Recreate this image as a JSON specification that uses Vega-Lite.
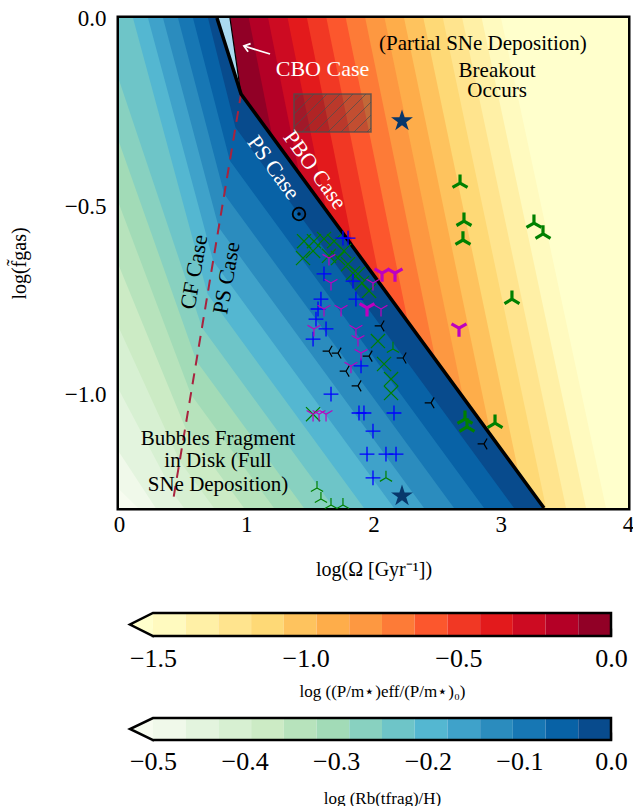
{
  "$schema": "https://vega.github.io/schema/vega-lite/v6.json",
  "autosize": {"type": "pad"},
  "padding": {"left": 6, "top": 4, "right": 2, "bottom": 0},
  "background": "white",
  "bounds": "flush",
  "spacing": 82,
  "config": {
    "font": "Liberation Serif",
    "view": {"stroke": null},
    "text": {"font": "Liberation Serif"},
    "axis": {"grid": false, "zindex": 1, "labelFont": "Liberation Serif", "titleFont": "Liberation Serif", "labelFontSize": 23, "titleFontSize": 20, "titleFontWeight": "normal", "labelColor": "black", "titleColor": "black", "tickColor": "black", "tickWidth": 1.3, "labelFlush": false, "labelOverlap": false}
  },
  "datasets": {
    "orange": [
      {"lev": "o00", "y": 0, "x": 4.2}, {"lev": "o00", "y": -1.3, "x": 4.2},
      {"lev": "o01", "y": 0, "x": 3.002}, {"lev": "o01", "y": -1.3, "x": 3.827},
      {"lev": "o02", "y": 0, "x": 2.850}, {"lev": "o02", "y": -1.3, "x": 3.670},
      {"lev": "o03", "y": 0, "x": 2.697}, {"lev": "o03", "y": -1.3, "x": 3.513},
      {"lev": "o04", "y": 0, "x": 2.545}, {"lev": "o04", "y": -1.3, "x": 3.356},
      {"lev": "o05", "y": 0, "x": 2.392}, {"lev": "o05", "y": -1.3, "x": 3.198},
      {"lev": "o06", "y": 0, "x": 2.240}, {"lev": "o06", "y": -1.3, "x": 3.041},
      {"lev": "o07", "y": 0, "x": 2.087}, {"lev": "o07", "y": -1.3, "x": 2.884},
      {"lev": "o08", "y": 0, "x": 1.935}, {"lev": "o08", "y": -1.3, "x": 2.727},
      {"lev": "o09", "y": 0, "x": 1.782}, {"lev": "o09", "y": -1.3, "x": 2.570},
      {"lev": "o10", "y": 0, "x": 1.630}, {"lev": "o10", "y": -1.3, "x": 2.413},
      {"lev": "o11", "y": 0, "x": 1.477}, {"lev": "o11", "y": -1.3, "x": 2.255},
      {"lev": "o12", "y": 0, "x": 1.325}, {"lev": "o12", "y": -1.3, "x": 2.098},
      {"lev": "o13", "y": 0, "x": 1.172}, {"lev": "o13", "y": -1.3, "x": 1.941},
      {"lev": "o14", "y": 0, "x": 1.020}, {"lev": "o14", "y": -1.3, "x": 1.784}
    ],
    "blue": [
      {"lev": "b00", "y": 0, "xl": 0, "xr": 0.77}, {"lev": "b00", "y": -0.2016, "xl": 0, "xr": 0.959}, {"lev": "b00", "y": -1.3, "xl": 0, "xr": 3.34},
      {"lev": "b01", "y": 0, "xl": 0, "xr": 0.77}, {"lev": "b01", "y": -0.2016, "xl": 0, "xr": 0.959}, {"lev": "b01", "y": -1.25, "xl": 0, "xr": 3.2316}, {"lev": "b01", "y": -1.3, "xl": 0.15, "xr": 3.34},
      {"lev": "b02", "y": 0, "xl": 0, "xr": 0.77}, {"lev": "b02", "y": -0.2016, "xl": 0, "xr": 0.959}, {"lev": "b02", "y": -1.1515, "xl": 0, "xr": 3.0181}, {"lev": "b02", "y": -1.3, "xl": 0.288, "xr": 3.34},
      {"lev": "b03", "y": 0, "xl": 0, "xr": 0.77}, {"lev": "b03", "y": -0.2016, "xl": 0, "xr": 0.959}, {"lev": "b03", "y": -0.987, "xl": 0, "xr": 2.6615}, {"lev": "b03", "y": -1.2648, "xl": 0.4346, "xr": 3.2637}, {"lev": "b03", "y": -1.3, "xl": 0.5104, "xr": 3.34},
      {"lev": "b04", "y": 0, "xl": 0, "xr": 0.77}, {"lev": "b04", "y": -0.2016, "xl": 0, "xr": 0.959}, {"lev": "b04", "y": -0.8225, "xl": 0, "xr": 2.3049}, {"lev": "b04", "y": -1.1762, "xl": 0.4783, "xr": 3.0717}, {"lev": "b04", "y": -1.3, "xl": 0.7462, "xr": 3.34},
      {"lev": "b05", "y": 0, "xl": 0, "xr": 0.77}, {"lev": "b05", "y": -0.2016, "xl": 0, "xr": 0.959}, {"lev": "b05", "y": -0.658, "xl": 0, "xr": 1.9483}, {"lev": "b05", "y": -1.0876, "xl": 0.5220, "xr": 2.8796}, {"lev": "b05", "y": -1.3, "xl": 0.9820, "xr": 3.34},
      {"lev": "b06", "y": 0, "xl": 0, "xr": 0.77}, {"lev": "b06", "y": -0.2016, "xl": 0, "xr": 0.959}, {"lev": "b06", "y": -0.4935, "xl": 0, "xr": 1.5918}, {"lev": "b06", "y": -0.9990, "xl": 0.5657, "xr": 2.6875}, {"lev": "b06", "y": -1.3, "xl": 1.2178, "xr": 3.34},
      {"lev": "b07", "y": 0, "xl": 0, "xr": 0.77}, {"lev": "b07", "y": -0.2016, "xl": 0, "xr": 0.959}, {"lev": "b07", "y": -0.329, "xl": 0, "xr": 1.2352}, {"lev": "b07", "y": -0.9104, "xl": 0.6094, "xr": 2.4955}, {"lev": "b07", "y": -1.3, "xl": 1.4536, "xr": 3.34},
      {"lev": "b08", "y": 0, "xl": 0, "xr": 0.77}, {"lev": "b08", "y": -0.1645, "xl": 0, "xr": 0.9242}, {"lev": "b08", "y": -0.2016, "xl": 0.0369, "xr": 0.959}, {"lev": "b08", "y": -0.8218, "xl": 0.6531, "xr": 2.3034}, {"lev": "b08", "y": -1.3, "xl": 1.6894, "xr": 3.34},
      {"lev": "b09", "y": 0, "xl": 0.1100, "xr": 0.77}, {"lev": "b09", "y": -0.2016, "xl": 0.2714, "xr": 0.959}, {"lev": "b09", "y": -0.7332, "xl": 0.6968, "xr": 2.1114}, {"lev": "b09", "y": -1.3, "xl": 1.9252, "xr": 3.34},
      {"lev": "b10", "y": 0, "xl": 0.2279, "xr": 0.77}, {"lev": "b10", "y": -0.2016, "xl": 0.3882, "xr": 0.959}, {"lev": "b10", "y": -0.6446, "xl": 0.7405, "xr": 1.9193}, {"lev": "b10", "y": -1.3, "xl": 2.1610, "xr": 3.34},
      {"lev": "b11", "y": 0, "xl": 0.3458, "xr": 0.77}, {"lev": "b11", "y": -0.2016, "xl": 0.5048, "xr": 0.959}, {"lev": "b11", "y": -0.5560, "xl": 0.7842, "xr": 1.7272}, {"lev": "b11", "y": -1.3, "xl": 2.3968, "xr": 3.34},
      {"lev": "b12", "y": 0, "xl": 0.4637, "xr": 0.77}, {"lev": "b12", "y": -0.2016, "xl": 0.6208, "xr": 0.959}, {"lev": "b12", "y": -0.4674, "xl": 0.8279, "xr": 1.5352}, {"lev": "b12", "y": -1.3, "xl": 2.6326, "xr": 3.34},
      {"lev": "b13", "y": 0, "xl": 0.5815, "xr": 0.77}, {"lev": "b13", "y": -0.2016, "xl": 0.7359, "xr": 0.959}, {"lev": "b13", "y": -0.3788, "xl": 0.8716, "xr": 1.3431}, {"lev": "b13", "y": -1.3, "xl": 2.8684, "xr": 3.34},
      {"lev": "b14", "y": 0, "xl": 0.6994, "xr": 0.77}, {"lev": "b14", "y": -0.2016, "xl": 0.8494, "xr": 0.959}, {"lev": "b14", "y": -0.2902, "xl": 0.9153, "xr": 1.1511}, {"lev": "b14", "y": -1.3, "xl": 3.1042, "xr": 3.34},
      {"lev": "w", "y": 0, "xl": 0.775, "xr": 0.872}, {"lev": "w", "y": -0.195, "xl": 0.952, "xr": 0.956}
    ],
    "pts": [
      {"s": "gT", "x": 2.680, "y": -0.438}, {"s": "gT", "x": 2.711, "y": -0.539}, {"s": "gT", "x": 2.703, "y": -0.589}, {"s": "gT", "x": 3.261, "y": -0.544}, {"s": "gT", "x": 3.332, "y": -0.573}, {"s": "gT", "x": 3.088, "y": -0.746}, {"s": "gT", "x": 2.719, "y": -1.064}, {"s": "gT", "x": 2.735, "y": -1.085}, {"s": "gT", "x": 2.955, "y": -1.075},
      {"s": "mT", "x": 2.067, "y": -0.677}, {"s": "mT", "x": 2.169, "y": -0.677}, {"s": "mT", "x": 1.949, "y": -0.769}, {"s": "mT", "x": 2.672, "y": -0.823},
      {"s": "mt", "x": 1.650, "y": -0.637}, {"s": "mt", "x": 1.666, "y": -0.703}, {"s": "mt", "x": 1.611, "y": -0.772}, {"s": "mt", "x": 1.745, "y": -0.772}, {"s": "mt", "x": 1.996, "y": -0.703}, {"s": "mt", "x": 2.059, "y": -0.772}, {"s": "mt", "x": 1.862, "y": -0.825}, {"s": "mt", "x": 1.878, "y": -0.852}, {"s": "mt", "x": 1.532, "y": -0.825}, {"s": "mt", "x": 1.902, "y": -0.889}, {"s": "mt", "x": 1.823, "y": -0.923}, {"s": "mt", "x": 1.525, "y": -1.051}, {"s": "mt", "x": 1.572, "y": -1.051}, {"s": "mt", "x": 1.627, "y": -1.051},
      {"s": "bp", "x": 1.760, "y": -0.584}, {"s": "bp", "x": 1.800, "y": -0.584}, {"s": "bp", "x": 1.611, "y": -0.679}, {"s": "bp", "x": 1.839, "y": -0.698}, {"s": "bp", "x": 1.587, "y": -0.746}, {"s": "bp", "x": 1.862, "y": -0.746}, {"s": "bp", "x": 1.564, "y": -0.772}, {"s": "bp", "x": 1.548, "y": -0.799}, {"s": "bp", "x": 1.627, "y": -0.825}, {"s": "bp", "x": 1.525, "y": -0.852}, {"s": "bp", "x": 1.902, "y": -0.923}, {"s": "bp", "x": 1.666, "y": -0.998}, {"s": "bp", "x": 1.886, "y": -1.048}, {"s": "bp", "x": 1.925, "y": -1.048}, {"s": "bp", "x": 2.161, "y": -1.048}, {"s": "bp", "x": 1.996, "y": -1.096}, {"s": "bp", "x": 1.949, "y": -1.157}, {"s": "bp", "x": 2.098, "y": -1.157}, {"s": "bp", "x": 2.177, "y": -1.157}, {"s": "bp", "x": 1.996, "y": -1.220},
      {"s": "gx", "x": 1.454, "y": -0.592}, {"s": "gx", "x": 1.532, "y": -0.592}, {"s": "gx", "x": 1.611, "y": -0.586}, {"s": "gx", "x": 1.690, "y": -0.592}, {"s": "gx", "x": 1.446, "y": -0.637}, {"s": "gx", "x": 1.525, "y": -0.618}, {"s": "gx", "x": 1.650, "y": -0.631}, {"s": "gx", "x": 1.721, "y": -0.637}, {"s": "gx", "x": 1.768, "y": -0.618}, {"s": "gx", "x": 1.800, "y": -0.653}, {"s": "gx", "x": 1.839, "y": -0.677}, {"s": "gx", "x": 1.878, "y": -0.679}, {"s": "gx", "x": 1.910, "y": -0.703}, {"s": "gx", "x": 1.965, "y": -0.724}, {"s": "gx", "x": 2.035, "y": -0.857}, {"s": "gx", "x": 2.083, "y": -0.918}, {"s": "gx", "x": 2.138, "y": -0.958}, {"s": "gx", "x": 2.138, "y": -0.995}, {"s": "gx", "x": 1.525, "y": -1.051},
      {"s": "kt", "x": 2.059, "y": -0.817}, {"s": "kt", "x": 1.721, "y": -0.889}, {"s": "kt", "x": 1.650, "y": -0.884}, {"s": "kt", "x": 1.965, "y": -0.897}, {"s": "kt", "x": 2.232, "y": -0.902}, {"s": "kt", "x": 1.784, "y": -0.937}, {"s": "kt", "x": 1.878, "y": -0.976}, {"s": "kt", "x": 2.452, "y": -1.021}, {"s": "kt", "x": 2.868, "y": -1.130},
      {"s": "gt", "x": 2.153, "y": -0.878}, {"s": "gt", "x": 2.098, "y": -1.220}, {"s": "gt", "x": 1.556, "y": -1.247}, {"s": "gt", "x": 1.587, "y": -1.276}, {"s": "gt", "x": 1.666, "y": -1.292}, {"s": "gt", "x": 1.760, "y": -1.292},
      {"s": "st", "x": 2.224, "y": -0.273}, {"s": "st", "x": 2.224, "y": -1.268},
      {"s": "od", "x": 1.4145, "y": -0.520}
    ],
    "cb1": [
      {"lev": "o01", "lo": -1.5, "hi": -1.392857}, {"lev": "o02", "lo": -1.392857, "hi": -1.285714}, {"lev": "o03", "lo": -1.285714, "hi": -1.178571}, {"lev": "o04", "lo": -1.178571, "hi": -1.071429}, {"lev": "o05", "lo": -1.071429, "hi": -0.964286}, {"lev": "o06", "lo": -0.964286, "hi": -0.857143}, {"lev": "o07", "lo": -0.857143, "hi": -0.75}, {"lev": "o08", "lo": -0.75, "hi": -0.642857}, {"lev": "o09", "lo": -0.642857, "hi": -0.535714}, {"lev": "o10", "lo": -0.535714, "hi": -0.428571}, {"lev": "o11", "lo": -0.428571, "hi": -0.321429}, {"lev": "o12", "lo": -0.321429, "hi": -0.214286}, {"lev": "o13", "lo": -0.214286, "hi": -0.107143}, {"lev": "o14", "lo": -0.107143, "hi": 0}
    ],
    "cb2": [
      {"lev": "b01", "lo": -0.5, "hi": -0.464286}, {"lev": "b02", "lo": -0.464286, "hi": -0.428571}, {"lev": "b03", "lo": -0.428571, "hi": -0.392857}, {"lev": "b04", "lo": -0.392857, "hi": -0.357143}, {"lev": "b05", "lo": -0.357143, "hi": -0.321429}, {"lev": "b06", "lo": -0.321429, "hi": -0.285714}, {"lev": "b07", "lo": -0.285714, "hi": -0.25}, {"lev": "b08", "lo": -0.25, "hi": -0.214286}, {"lev": "b09", "lo": -0.214286, "hi": -0.178571}, {"lev": "b10", "lo": -0.178571, "hi": -0.142857}, {"lev": "b11", "lo": -0.142857, "hi": -0.107143}, {"lev": "b12", "lo": -0.107143, "hi": -0.071429}, {"lev": "b13", "lo": -0.071429, "hi": -0.035714}, {"lev": "b14", "lo": -0.035714, "hi": 0}
    ]
  },
  "vconcat": [
    {
      "width": 509,
      "height": 490,
      "view": {"stroke": "black", "strokeWidth": 5},
      "resolve": {"axis": {"x": "independent", "y": "independent"}},
      "layer": [
        {
          "data": {"name": "orange"},
          "mark": {"type": "area", "orient": "horizontal", "clip": true},
          "encoding": {
            "y": {"field": "y", "type": "quantitative", "scale": {"domain": [-1.3, 0], "nice": false, "zero": false},
              "axis": {"orient": "left", "values": [0, -0.5, -1], "labelExpr": "replace(format(datum.value, '.1f'), '-', '−')", "tickSize": -7, "labelPadding": 20, "domain": false, "title": "log(f̃gas)", "titleX": -90, "titleY": 245, "titleAngle": -90, "titleAlign": "center", "titleBaseline": "bottom"}},
            "x": {"field": "x", "type": "quantitative", "scale": {"domain": [0, 4], "nice": false, "zero": false},
              "axis": {"orient": "bottom", "values": [0, 1, 2, 3, 4], "format": "d", "tickSize": -7, "labelPadding": 12, "domain": false, "title": "log(Ω [Gyr⁻¹])", "titleY": 61, "titleBaseline": "middle"}},
            "x2": {"datum": 0},
            "color": {"field": "lev", "type": "nominal", "legend": null,
              "scale": {"domain": ["o00","o01","o02","o03","o04","o05","o06","o07","o08","o09","o10","o11","o12","o13","o14","b00","b01","b02","b03","b04","b05","b06","b07","b08","b09","b10","b11","b12","b13","b14","w"],
                "range": ["#ffffcc","#fffabf","#fff0a6","#ffe48e","#fed976","#fec35e","#fead4a","#fd9841","#fd7b37","#fc572d","#f13824","#e31a1c","#cd0b22","#b40026","#910026","#f7fcf0","#f0f9ea","#e3f4de","#d7f0d2","#ccebc5","#b7e3bc","#a2dbb7","#88d1c0","#6ec5c8","#54b7d1","#3fa2ca","#2b8cbe","#1777b4","#0862a6","#084b8d","#aadaf0"]}}
          }
        },
        {
          "data": {"name": "blue"},
          "mark": {"type": "area", "orient": "horizontal", "clip": true},
          "encoding": {
            "y": {"field": "y", "type": "quantitative", "axis": {"orient": "right", "values": [-0.5, -1], "labels": false, "tickSize": -7, "domain": false, "title": null}},
            "x": {"field": "xl", "type": "quantitative", "axis": {"orient": "top", "values": [1, 2, 3], "labels": false, "tickSize": -7, "domain": false, "title": null}},
            "x2": {"field": "xr"},
            "color": {"field": "lev", "type": "nominal", "legend": null}
          }
        },
        {
          "data": {"values": [{"x1": 1.3752, "x2": 1.9804, "y1": -0.2016, "y2": -0.3025}]},
          "mark": {"type": "rect", "color": "#3a3a3a", "fillOpacity": 0.3, "stroke": "#4d4d4d", "strokeWidth": 1.5, "strokeOpacity": 0.8},
          "encoding": {"x": {"field": "x1", "type": "quantitative", "axis": null}, "x2": {"field": "x2"}, "y": {"field": "y1", "type": "quantitative", "axis": null}, "y2": {"field": "y2"}}
        },
        {
          "data": {"values": [
            {"x1": 1.3752, "y1": -0.2202, "x2": 1.4303, "y2": -0.2016},
            {"x1": 1.3752, "y1": -0.2547, "x2": 1.5324, "y2": -0.2016},
            {"x1": 1.3752, "y1": -0.2892, "x2": 1.6346, "y2": -0.2016},
            {"x1": 1.4381, "y1": -0.3025, "x2": 1.7367, "y2": -0.2016},
            {"x1": 1.5403, "y1": -0.3025, "x2": 1.8389, "y2": -0.2016},
            {"x1": 1.6424, "y1": -0.3025, "x2": 1.9411, "y2": -0.2016},
            {"x1": 1.7446, "y1": -0.3025, "x2": 1.9804, "y2": -0.2229},
            {"x1": 1.8468, "y1": -0.3025, "x2": 1.9804, "y2": -0.2574},
            {"x1": 1.9489, "y1": -0.3025, "x2": 1.9804, "y2": -0.2919}
          ]},
          "mark": {"type": "rule", "color": "#4d4d4d", "strokeWidth": 0.9, "opacity": 0.8},
          "encoding": {"x": {"field": "x1", "type": "quantitative", "axis": null}, "y": {"field": "y1", "type": "quantitative", "axis": null}, "x2": {"field": "x2"}, "y2": {"field": "y2"}}
        },
        {
          "data": {"values": [{"x": 0.959, "y": -0.2016}, {"x": 0.43, "y": -1.27}]},
          "mark": {"type": "line", "color": "#a8233e", "strokeWidth": 2, "strokeDash": [11, 8]},
          "encoding": {"x": {"field": "x", "type": "quantitative", "axis": null}, "y": {"field": "y", "type": "quantitative", "axis": null}}
        },
        {
          "data": {"values": [{"x": 0.872, "y": 0}, {"x": 0.955, "y": -0.195}]},
          "mark": {"type": "line", "color": "black", "strokeWidth": 1.2},
          "encoding": {"x": {"field": "x", "type": "quantitative", "axis": null}, "y": {"field": "y", "type": "quantitative", "axis": null}}
        },
        {
          "data": {"values": [{"x": 0.77, "y": 0}, {"x": 0.959, "y": -0.2016}, {"x": 3.34, "y": -1.3}]},
          "mark": {"type": "line", "color": "black", "strokeWidth": 3.5},
          "encoding": {"x": {"field": "x", "type": "quantitative", "axis": null}, "y": {"field": "y", "type": "quantitative", "axis": null}}
        },
        {
          "data": {"name": "pts"},
          "transform": [{"filter": "datum.s === 'gx'"}],
          "mark": {"type": "point", "shape": "M-1,-1L1,1M-1,1L1,-1", "filled": false, "color": "#008000", "strokeWidth": 1.2, "size": 200, "opacity": 1},
          "encoding": {"x": {"field": "x", "type": "quantitative", "axis": null}, "y": {"field": "y", "type": "quantitative", "axis": null}}
        },
        {
          "data": {"name": "pts"},
          "transform": [{"filter": "datum.s === 'bp'"}],
          "mark": {"type": "point", "shape": "M-1,0L1,0M0,-1L0,1", "filled": false, "color": "#0000ff", "strokeWidth": 1.3, "size": 220, "opacity": 1},
          "encoding": {"x": {"field": "x", "type": "quantitative", "axis": null}, "y": {"field": "y", "type": "quantitative", "axis": null}}
        },
        {
          "data": {"name": "pts"},
          "transform": [{"filter": "datum.s === 'mt'"}],
          "mark": {"type": "point", "shape": "M0,0L0,1M0,0L-0.866,-0.5M0,0L0.866,-0.5", "filled": false, "color": "#bf00bf", "strokeWidth": 1.2, "size": 220, "opacity": 1},
          "encoding": {"x": {"field": "x", "type": "quantitative", "axis": null}, "y": {"field": "y", "type": "quantitative", "axis": null}}
        },
        {
          "data": {"name": "pts"},
          "transform": [{"filter": "datum.s === 'kt'"}],
          "mark": {"type": "point", "shape": "M0,0L-1,0M0,0L0.5,-0.866M0,0L0.5,0.866", "filled": false, "color": "black", "strokeWidth": 1.2, "size": 160, "opacity": 1},
          "encoding": {"x": {"field": "x", "type": "quantitative", "axis": null}, "y": {"field": "y", "type": "quantitative", "axis": null}}
        },
        {
          "data": {"name": "pts"},
          "transform": [{"filter": "datum.s === 'gt'"}],
          "mark": {"type": "point", "shape": "M0,0L0,-1M0,0L-0.866,0.5M0,0L0.866,0.5", "filled": false, "color": "#008000", "strokeWidth": 1.2, "size": 200, "opacity": 1},
          "encoding": {"x": {"field": "x", "type": "quantitative", "axis": null}, "y": {"field": "y", "type": "quantitative", "axis": null}}
        },
        {
          "data": {"name": "pts"},
          "transform": [{"filter": "datum.s === 'gT'"}],
          "mark": {"type": "point", "shape": "M0,0L0,-1M0,0L-0.866,0.5M0,0L0.866,0.5", "filled": false, "color": "#008000", "strokeWidth": 3.2, "size": 300, "opacity": 1},
          "encoding": {"x": {"field": "x", "type": "quantitative", "axis": null}, "y": {"field": "y", "type": "quantitative", "axis": null}}
        },
        {
          "data": {"name": "pts"},
          "transform": [{"filter": "datum.s === 'mT'"}],
          "mark": {"type": "point", "shape": "M0,0L0,1M0,0L-0.866,-0.5M0,0L0.866,-0.5", "filled": false, "color": "#bf00bf", "strokeWidth": 3.2, "size": 300, "opacity": 1},
          "encoding": {"x": {"field": "x", "type": "quantitative", "axis": null}, "y": {"field": "y", "type": "quantitative", "axis": null}}
        },
        {
          "data": {"name": "pts"},
          "transform": [{"filter": "datum.s === 'st'"}],
          "mark": {"type": "point", "shape": "M0,-1L0.225,-0.309L0.951,-0.309L0.363,0.118L0.588,0.809L0,0.382L-0.588,0.809L-0.363,0.118L-0.951,-0.309L-0.225,-0.309Z", "filled": true, "color": "#08376b", "size": 530, "opacity": 1},
          "encoding": {"x": {"field": "x", "type": "quantitative", "axis": null}, "y": {"field": "y", "type": "quantitative", "axis": null}}
        },
        {
          "data": {"name": "pts"},
          "transform": [{"filter": "datum.s === 'od'"}],
          "mark": {"type": "point", "shape": "circle", "filled": false, "color": "black", "strokeWidth": 1.8, "size": 160, "opacity": 1},
          "encoding": {"x": {"field": "x", "type": "quantitative", "axis": null}, "y": {"field": "y", "type": "quantitative", "axis": null}}
        },
        {
          "data": {"name": "pts"},
          "transform": [{"filter": "datum.s === 'od'"}],
          "mark": {"type": "point", "shape": "circle", "filled": true, "color": "black", "size": 12, "opacity": 1},
          "encoding": {"x": {"field": "x", "type": "quantitative", "axis": null}, "y": {"field": "y", "type": "quantitative", "axis": null}}
        },
        {
          "data": {"values": [
            {"t": "(Partial SNe Deposition)", "x": 2.860, "y": -0.069},
            {"t": "Breakout", "x": 2.971, "y": -0.1406},
            {"t": "Occurs", "x": 2.971, "y": -0.1937},
            {"t": "Bubbles Fragment", "x": 0.778, "y": -1.117},
            {"t": "in Disk (Full", "x": 0.778, "y": -1.176},
            {"t": "SNe Deposition)", "x": 0.778, "y": -1.238}
          ]},
          "mark": {"type": "text", "font": "Liberation Serif", "fontSize": 21, "color": "black", "align": "center", "baseline": "middle"},
          "encoding": {"x": {"field": "x", "type": "quantitative", "axis": null}, "y": {"field": "y", "type": "quantitative", "axis": null}, "text": {"field": "t"}}
        },
        {
          "data": {"values": [{"t": "CBO Case", "x": 1.599, "y": -0.135}]},
          "mark": {"type": "text", "font": "Liberation Serif", "fontSize": 22, "color": "white", "align": "center", "baseline": "middle"},
          "encoding": {"x": {"field": "x", "type": "quantitative", "axis": null}, "y": {"field": "y", "type": "quantitative", "axis": null}, "text": {"field": "t"}}
        },
        {
          "data": {"values": [{"t": "PBO Case", "x": 1.540, "y": -0.403}, {"t": "PS Case", "x": 1.214, "y": -0.397}]},
          "mark": {"type": "text", "font": "Liberation Serif", "fontSize": 22, "color": "white", "align": "center", "baseline": "middle", "angle": 54},
          "encoding": {"x": {"field": "x", "type": "quantitative", "axis": null}, "y": {"field": "y", "type": "quantitative", "axis": null}, "text": {"field": "t"}}
        },
        {
          "data": {"values": [{"t": "CF Case", "x": 0.59, "y": -0.674}, {"t": "PS Case", "x": 0.845, "y": -0.69}]},
          "mark": {"type": "text", "font": "Liberation Serif", "fontSize": 22, "color": "black", "align": "center", "baseline": "middle", "angle": 280},
          "encoding": {"x": {"field": "x", "type": "quantitative", "axis": null}, "y": {"field": "y", "type": "quantitative", "axis": null}, "text": {"field": "t"}}
        },
        {
          "data": {"values": [{"x": 1.187, "y": -0.0955}, {"x": 0.982, "y": -0.0743}]},
          "mark": {"type": "line", "color": "white", "strokeWidth": 1.8},
          "encoding": {"x": {"field": "x", "type": "quantitative", "axis": null}, "y": {"field": "y", "type": "quantitative", "axis": null}}
        },
        {
          "data": {"values": [{"x": 0.982, "y": -0.0743}]},
          "mark": {"type": "point", "shape": "M-0.6,0.8L0,0L0.6,0.8", "filled": false, "color": "white", "strokeWidth": 1.8, "size": 200, "angle": 287, "opacity": 1},
          "encoding": {"x": {"field": "x", "type": "quantitative", "axis": null}, "y": {"field": "y", "type": "quantitative", "axis": null}}
        }
      ]
    },
    {
      "width": 492,
      "height": 46,
      "view": {"stroke": null},
      "resolve": {"axis": {"x": "independent", "y": "independent"}},
      "layer": [
        {
          "data": {"name": "cb1"},
          "mark": {"type": "rect"},
          "encoding": {
            "x": {"field": "lo", "type": "quantitative", "scale": {"domain": [-1.6112, 0], "nice": false, "zero": false},
              "axis": {"orient": "bottom", "values": [-1.5, -1, -0.5, 0], "labelExpr": "replace(format(datum.value, '.1f'), '-', '−')", "labelFontSize": 26, "tickSize": -8, "labelPadding": 17, "domain": false, "title": "log ((P/m⋆)eff/(P/m⋆)₀)", "titleFontSize": 17, "titleX": 263, "titleY": 55, "titleBaseline": "middle"}},
            "x2": {"field": "hi"},
            "y": {"datum": 0, "type": "quantitative", "scale": {"domain": [0, 2], "nice": false, "zero": false}, "axis": null},
            "y2": {"datum": 1},
            "color": {"field": "lev", "type": "nominal", "legend": null}
          }
        },
        {
          "data": {"values": [{"y": 0, "x": -1.5}, {"y": 0.5, "x": -1.5752}, {"y": 1, "x": -1.5}]},
          "mark": {"type": "area", "orient": "horizontal", "color": "#ffffcc"},
          "encoding": {"y": {"field": "y", "type": "quantitative", "axis": null}, "x": {"field": "x", "type": "quantitative", "axis": null}, "x2": {"datum": -1.5}}
        },
        {
          "data": {"values": [{"i": 0, "x": -1.5, "y": 0}, {"i": 1, "x": 0, "y": 0}, {"i": 2, "x": 0, "y": 1}, {"i": 3, "x": -1.5, "y": 1}, {"i": 4, "x": -1.5752, "y": 0.5}, {"i": 5, "x": -1.5, "y": 0}]},
          "mark": {"type": "line", "color": "black", "strokeWidth": 2.5, "strokeCap": "square"},
          "encoding": {"x": {"field": "x", "type": "quantitative", "axis": null}, "y": {"field": "y", "type": "quantitative", "axis": null}, "order": {"field": "i", "type": "quantitative"}}
        }
      ]
    },
    {
      "width": 492,
      "height": 22,
      "view": {"stroke": null},
      "resolve": {"axis": {"x": "independent", "y": "independent"}},
      "layer": [
        {
          "data": {"name": "cb2"},
          "mark": {"type": "rect"},
          "encoding": {
            "x": {"field": "lo", "type": "quantitative", "scale": {"domain": [-0.5371, 0], "nice": false, "zero": false},
              "axis": {"orient": "bottom", "values": [-0.5, -0.4, -0.3, -0.2, -0.1, 0], "labelExpr": "replace(format(datum.value, '.1f'), '-', '−')", "labelFontSize": 26, "tickSize": -8, "labelPadding": 16, "domain": false, "title": "log (Rb(tfrag)/H)", "titleFontSize": 17, "titleX": 263, "titleY": 58, "titleBaseline": "middle"}},
            "x2": {"field": "hi"},
            "y": {"datum": 0, "type": "quantitative", "scale": {"domain": [0, 1], "nice": false, "zero": false}, "axis": null},
            "y2": {"datum": 1},
            "color": {"field": "lev", "type": "nominal", "legend": null}
          }
        },
        {
          "data": {"values": [{"y": 0, "x": -0.5}, {"y": 0.5, "x": -0.5251}, {"y": 1, "x": -0.5}]},
          "mark": {"type": "area", "orient": "horizontal", "color": "#f7fcf0"},
          "encoding": {"y": {"field": "y", "type": "quantitative", "axis": null}, "x": {"field": "x", "type": "quantitative", "axis": null}, "x2": {"datum": -0.5}}
        },
        {
          "data": {"values": [{"i": 0, "x": -0.5, "y": 0}, {"i": 1, "x": 0, "y": 0}, {"i": 2, "x": 0, "y": 1}, {"i": 3, "x": -0.5, "y": 1}, {"i": 4, "x": -0.5251, "y": 0.5}, {"i": 5, "x": -0.5, "y": 0}]},
          "mark": {"type": "line", "color": "black", "strokeWidth": 2.5, "strokeCap": "square"},
          "encoding": {"x": {"field": "x", "type": "quantitative", "axis": null}, "y": {"field": "y", "type": "quantitative", "axis": null}, "order": {"field": "i", "type": "quantitative"}}
        }
      ]
    }
  ]
}
